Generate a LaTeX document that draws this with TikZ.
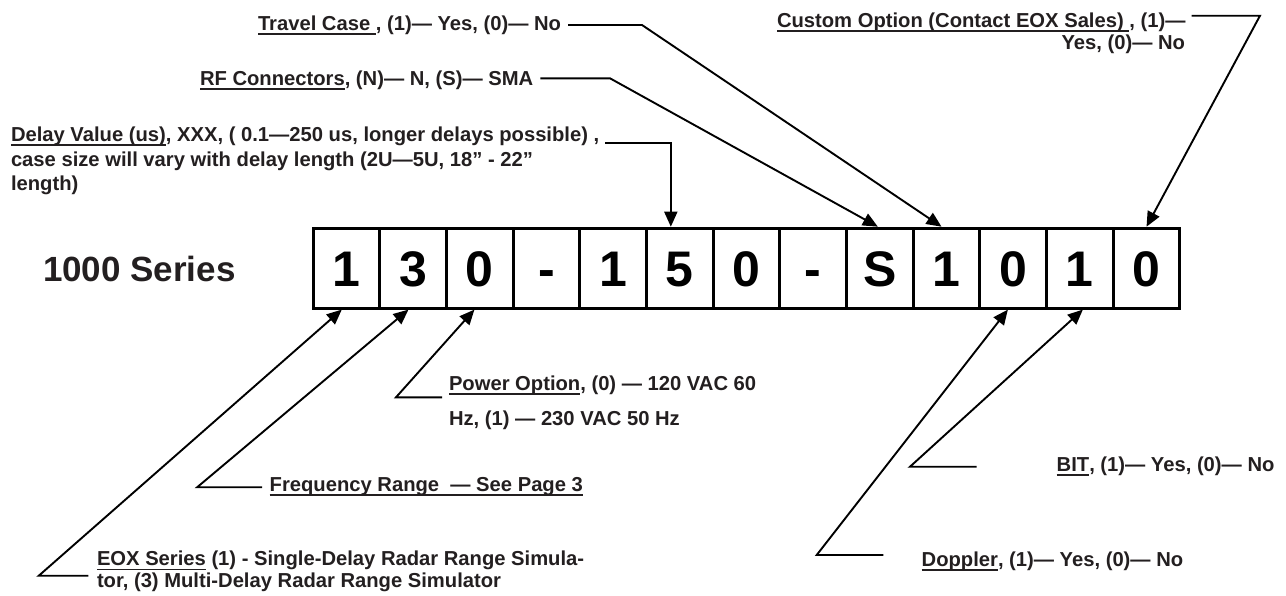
\documentclass[tikz,border=0pt]{standalone}
\usepackage{fontspec}
\setmainfont{Liberation Sans}
\usetikzlibrary{arrows.meta}
\definecolor{txt}{RGB}{35,31,32}
\newcommand\ulx[1]{\setbox0\hbox{#1}\rlap{\rule[-4.6pt]{\wd0}{1.9pt}}\box0\relax}
\begin{document}
\begin{tikzpicture}[x=1pt,y=-1pt,
  lbl/.style={anchor=base west, inner sep=0pt, outer sep=0pt, text=txt, font=\bfseries\fontsize{20.2}{24}\selectfont},
  big/.style={lbl, font=\bfseries\fontsize{35}{40}\selectfont},
  cell/.style={draw, line width=2.9pt, minimum width=66.67pt, minimum height=80pt, inner sep=0pt, anchor=north west, text height=35.8pt, text depth=0pt, font=\bfseries\fontsize{50}{60}\selectfont},
  conn/.style={line width=1.9pt, line join=miter},
  arr/.style={conn, -{Triangle[length=15pt,width=13pt]}}]
\useasboundingbox (0,0) rectangle (1286,595);

% code boxes
\foreach \t [count=\i] in {1,3,0,-,1,5,0,-,S,1,0,1,0}
  \node[cell] (c\i) at ({311.7+(\i-1)*66.67},226.7) {\t};

\node[big] (series) at (43,281.7) {1000 Series};

% top labels
\node[lbl] (travel) at (258,30.7) {\ulx{Travel Case }, (1)— Yes, (0)— No};
\node[lbl] (rf) at (200,85) {\ulx{RF Connectors}, (N)— N, (S)— SMA};
\node[lbl] (cust1) at (777,27.5) {\ulx{Custom Option (Contact EOX Sales) }, (1)—};
\node[lbl, anchor=base east] (cust2) at (1185,49) {Yes, (0)— No};
\node[lbl] (d1) at (11,141.7) {\ulx{Delay Value (us)}, XXX, ( 0.1—250 us, longer delays possible) ,};
\node[lbl] (d2) at (11,166.7) {case size will vary with delay length (2U—5U, 18” - 22”};
\node[lbl] (d3) at (11,190) {length)};

% bottom labels
\node[lbl] (pow1) at (449,390) {\ulx{Power Option}, (0) — 120 VAC 60};
\node[lbl] (pow2) at (449,425) {Hz, (1) — 230 VAC 50 Hz};
\node[lbl] (freq) at (269.7,491.5) {\ulx{Frequency Range~~— See Page 3}};
\node[lbl] (eox1) at (97,565.8) {\ulx{EOX Series} (1) - Single-Delay Radar Range Simula-};
\node[lbl] (eox2) at (97,587) {tor, (3) Multi-Delay Radar Range Simulator};
\node[lbl] (bit) at (1056.7,471.7) {\ulx{BIT}, (1)— Yes, (0)— No};
\node[lbl] (dop) at (921.7,566.7) {\ulx{Doppler}, (1)— Yes, (0)— No};

% knees
\coordinate (kTravel) at (642,25);
\coordinate (kRF) at (610,78.3);
\coordinate (kCust) at (1260,15.7);
\coordinate (kPow) at (396,397.3);
\coordinate (kFreq) at (197.2,487.2);
\coordinate (kEox) at (38.8,575.7);
\coordinate (kBit) at (910,466.7);
\coordinate (kDop) at (816.7,555);

% top connectors
\draw[arr] ([shift={(7pt,5.7pt)}]travel.base east) -- (kTravel) -- ([xshift=-5pt]c10.north);
\draw[arr] ([shift={(7pt,6.7pt)}]rf.base east) -- (kRF) -- ([xshift=-2pt]c9.north);
\draw[arr] ([shift={(6pt,11.8pt)}]cust1.base east) -- (kCust) -- (c13.north);
\draw[arr] ([shift={(6pt,-1pt)}]d1.base east) -| ([xshift=-9pt]c6.north);

% bottom connectors
\draw[arr] ([shift={(-7pt,-7.3pt)}]pow1.base west) -- (kPow) -- ([xshift=-5.4pt]c3.south);
\draw[arr] ([shift={(-7.7pt,4.3pt)}]freq.base west) -- (kFreq) -- ([xshift=-4.7pt]c2.south);
\draw[arr] ([shift={(-8.6pt,-9.9pt)}]eox1.base west) -- (kEox) -- ([xshift=-4.7pt]c1.south);
\draw[arr] ([shift={(-80pt,5pt)}]bit.base west) -- (kBit) -- ([xshift=3pt]c12.south);
\draw[arr] ([shift={(-38.4pt,11.7pt)}]dop.base west) -- (kDop) -- ([xshift=-5.3pt]c11.south);
\end{tikzpicture}
\end{document}
